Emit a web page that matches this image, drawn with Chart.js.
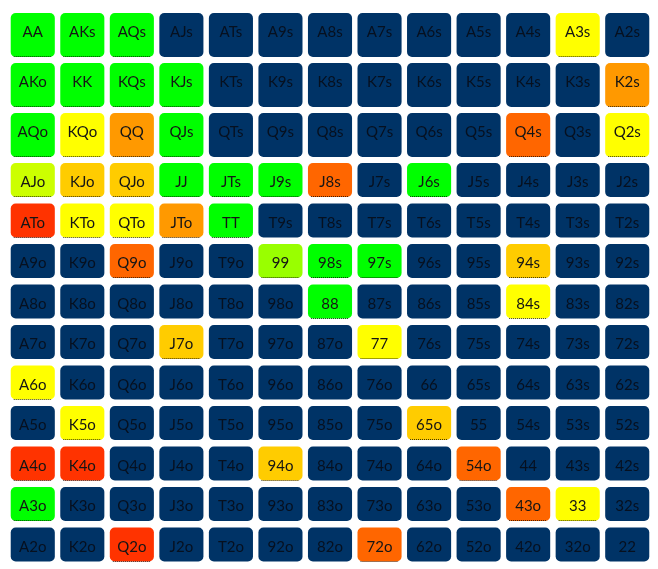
<!DOCTYPE html>
<html>
<head>
<meta charset="utf-8">
<title>Hand range</title>
<script src="https://cdn.jsdelivr.net/npm/chart.js@4.4.1/dist/chart.umd.min.js"></script>
<style>
    html, body {
        margin: 0;
        padding: 0;
        background: #ffffff;
    }
    .chart-wrap {
        position: relative;
        width: 658px;
        height: 569px;
    }
</style>
</head>
<body>
<div class="chart-wrap">
    <canvas id="rangeChart"></canvas>
</div>
<script>
// Hand ranks (rows and columns of the grid)
const ranks = ['A', 'K', 'Q', 'J', 'T', '9', '8', '7', '6', '5', '4', '3', '2'];

// Level of each cell, one string per row (. = not in range)
const levels = [
    'GGG........Y.',
    'GGGG........O',
    'GYOG......D.Y',
    'LKKGGGD.G....',
    'RYYOG........',
    '..D..9GG..K..',
    '......G...Y..',
    '...K...Y.....',
    'Y............',
    '.Y......K....',
    'RR...K...D...',
    'G.........DY.',
    '..R....D.....'
];

// Colour for each level
const levelColors = {
    'G': '#00ff00',
    '9': '#99ff00',
    'L': '#ccff00',
    'Y': '#ffff00',
    'K': '#ffcc00',
    'O': '#ff9900',
    'D': '#ff6600',
    'R': '#ff3300',
    '.': '#003366'
};

// Layout of the rows (pixel units on the y scale)
function rowTop(i) {
    return i < 3 ? 13 + 50 * i : 163 + 40.5 * (i - 3);
}
function rowHeight(i) {
    return i < 3 ? 44 : 34;
}

function handName(i, j) {
    if (i === j) return ranks[i] + ranks[j];
    if (i < j) return ranks[i] + ranks[j] + 's';
    return ranks[j] + ranks[i] + 'o';
}

// One dataset per row, floating bars from the top to the bottom of the row
const datasets = ranks.map((r, i) => ({
    label: r,
    data: ranks.map(() => [rowTop(i), rowTop(i) + rowHeight(i)]),
    backgroundColor: levels[i].split('').map(c => levelColors[c]),
    hands: ranks.map((c, j) => handName(i, j)),
    codes: levels[i].split(''),
    borderRadius: 5,
    borderSkipped: false,
    grouped: false,
    categoryPercentage: 1,
    barPercentage: 0.89
}));

// Draws the hand names and the dotted bottom line of coloured cells
const cellLabels = {
    id: 'cellLabels',
    afterDatasetsDraw(chart) {
        const ctx = chart.ctx;
        ctx.save();
        ctx.font = '15px Lato, sans-serif';
        ctx.textAlign = 'center';
        ctx.textBaseline = 'alphabetic';
        chart.data.datasets.forEach((ds, di) => {
            const meta = chart.getDatasetMeta(di);
            meta.data.forEach((bar, j) => {
                const top = Math.min(bar.y, bar.base);
                const bottom = Math.max(bar.y, bar.base);
                const half = bar.width / 2;
                if (ds.codes[j] !== '.') {
                    ctx.strokeStyle = 'rgba(0,0,0,0.75)';
                    ctx.lineWidth = 1;
                    ctx.setLineDash([1, 1]);
                    ctx.beginPath();
                    ctx.moveTo(bar.x - half + 3, Math.round(bottom) - 0.5);
                    ctx.lineTo(bar.x + half - 3, Math.round(bottom) - 0.5);
                    ctx.stroke();
                    ctx.setLineDash([]);
                    ctx.fillStyle = '#151515';
                } else {
                    ctx.fillStyle = '#06101f';
                }
                ctx.fillText(ds.hands[j], bar.x, top + 24);
            });
        });
        ctx.restore();
    }
};

document.addEventListener('DOMContentLoaded', function() {
    const ctx = document.getElementById('rangeChart').getContext('2d');

    new Chart(ctx, {
        type: 'bar',
        data: {
            labels: ranks,
            datasets: datasets
        },
        options: {
            responsive: true,
            maintainAspectRatio: false,
            animation: false,
            layout: {
                padding: { left: 8, right: 6, top: 0, bottom: 0 }
            },
            plugins: {
                legend: { display: false },
                tooltip: { enabled: false }
            },
            scales: {
                x: {
                    display: false,
                    offset: true,
                    grid: { display: false }
                },
                y: {
                    display: false,
                    reverse: true,
                    min: 0,
                    max: 569,
                    grid: { display: false }
                }
            }
        },
        plugins: [cellLabels]
    });
});
</script>
</body>
</html>
